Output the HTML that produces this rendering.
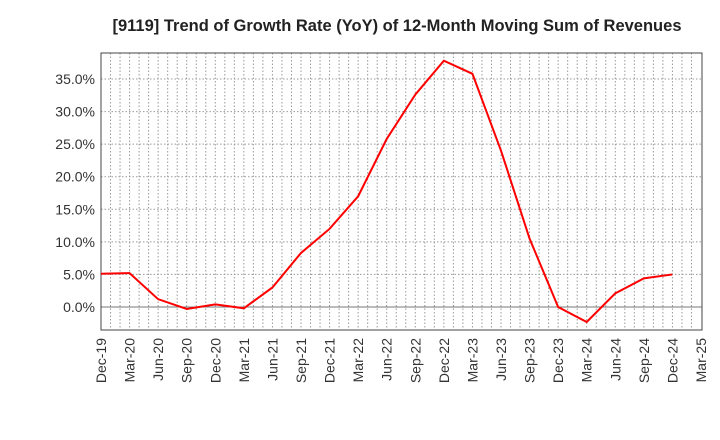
<!DOCTYPE html>
<html><head><meta charset="utf-8"><style>
body{margin:0;background:#fff;}
svg{display:block;font-family:"Liberation Sans",sans-serif;}
</style></head><body>
<svg id="chart" width="720" height="440">
<text x="397" y="31" text-anchor="middle" font-size="16.5" font-weight="bold" fill="#222">[9119]  Trend of Growth Rate (YoY) of 12-Month Moving Sum of Revenues</text>
<g id="grid"></g><g id="axes"></g><g id="series"></g>
</svg>
<script>
const categories=["Dec-19","Mar-20","Jun-20","Sep-20","Dec-20","Mar-21","Jun-21","Sep-21","Dec-21","Mar-22","Jun-22","Sep-22","Dec-22","Mar-23","Jun-23","Sep-23","Dec-23","Mar-24","Jun-24","Sep-24","Dec-24","Mar-25"];
const values=[5.1,5.2,1.2,-0.3,0.4,-0.2,3.0,8.3,12.0,17.0,25.8,32.6,37.8,35.8,24.0,10.5,0.0,-2.3,2.1,4.4,5.0];
const yTicks=[0,5,10,15,20,25,30,35];
const tickLabels=["0.0%","5.0%","10.0%","15.0%","20.0%","25.0%","30.0%","35.0%"];
const L=101,R=702,T=53,B=330;
const NS="http://www.w3.org/2000/svg";
const xq=i=>L+(R-1-L)*i/(categories.length-1);
const y=v=>307-v*(307-79)/35;
function mk(tag,attrs,parent){const e=document.createElementNS(NS,tag);for(const k in attrs)e.setAttribute(k,attrs[k]);parent.appendChild(e);return e;}
const grid=document.getElementById('grid'),axes=document.getElementById('axes'),ser=document.getElementById('series');
for(let m=1;m<(categories.length-1)*3;m++){const x=L+(R-1-L)*m/((categories.length-1)*3);
const g=mk('line',{x1:x,x2:x,y1:T,y2:B,stroke:'#999','stroke-dasharray':'1.5,2','stroke-width':1},grid);

}
yTicks.forEach((t,i)=>{const yy=y(t);
const g=mk('line',{x1:L,x2:R,y1:yy,y2:yy,stroke:t===0?'#777':'#999','stroke-dasharray':t===0?'none':'1.5,2','stroke-width':1},grid);


const tx=mk('text',{x:L-6,y:yy+5,'text-anchor':'end','font-size':14,fill:'#333'},axes);tx.textContent=tickLabels[i];

});
const fr=mk('rect',{x:L,y:T,width:R-L,height:B-T,fill:'none',stroke:'#444','stroke-width':1},axes);


categories.forEach((c,i)=>{const x=xq(i);
const tx=mk('text',{x:0,y:0,'text-anchor':'end','font-size':14,fill:'#333',transform:`translate(${x+5},${B+8}) rotate(-90)`},axes);tx.textContent=c;

});
const p=mk('polyline',{points:values.map((v,i)=>xq(i)+','+y(v)).join(' '),fill:'none',stroke:'#f00','stroke-width':2},ser);


</script>
</body></html>
